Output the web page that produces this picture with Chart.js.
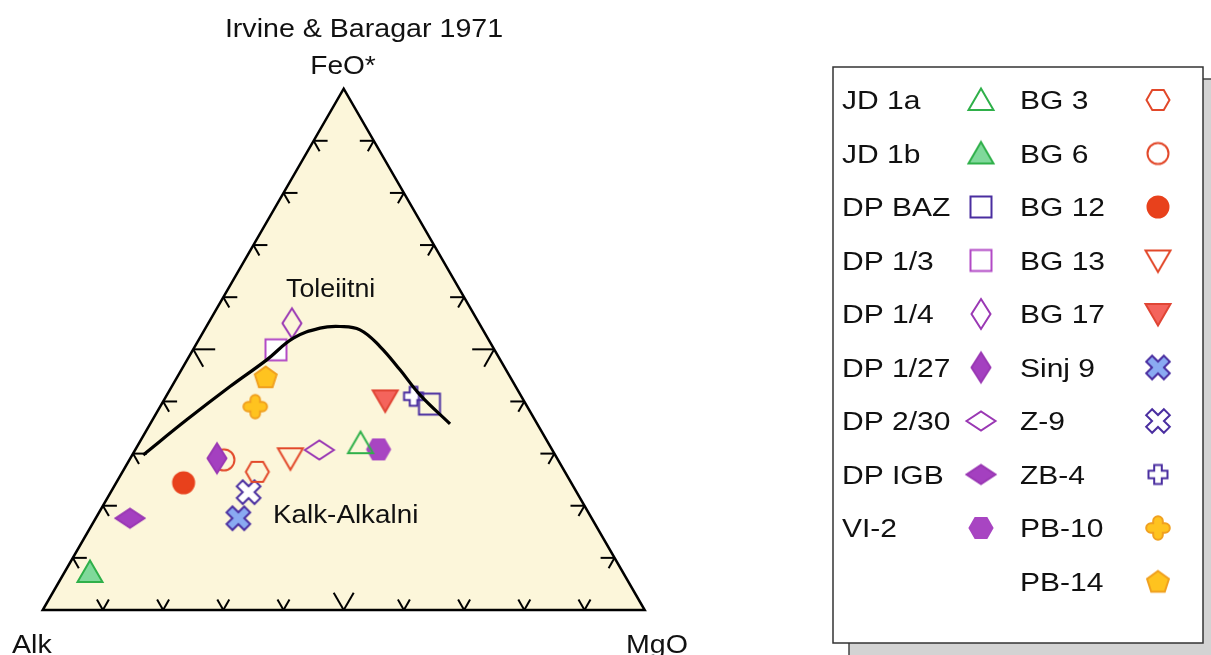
<!DOCTYPE html>
<html>
<head>
<meta charset="utf-8">
<script src="https://cdn.jsdelivr.net/npm/chart.js@4.4.1/dist/chart.umd.min.js"></script>
<style>
  html, body { margin: 0; padding: 0; background: #ffffff; }
  #wrap { width: 1211px; height: 655px; }
</style>
</head>
<body>
<div id="wrap"><canvas id="chart" width="1211" height="655"></canvas></div>
<script>
// Sample compositions (wt% normalised): FeO*, MgO, Alk (Na2O + K2O)
const sampleNames = ["JD 1a", "JD 1b", "DP BAZ", "DP 1/3", "DP 1/4", "DP 1/27", "DP 2/30", "DP IGB", "VI-2",
                     "BG 3", "BG 6", "BG 12", "BG 13", "BG 17", "Sinj 9", "Z-9", "ZB-4", "PB-10", "PB-14"];
const feoValues = [32.0, 7.3, 39.5, 49.9, 55.0, 29.1, 30.7, 17.6, 30.8,
                   26.5, 28.8, 24.4, 29.1, 40.2, 17.6, 22.6, 41.0, 39.0, 44.7];
const mgoValues = [36.8, 4.2, 44.5, 13.8, 13.9, 14.4, 30.6, 5.7, 40.4,
                   22.4, 15.7, 11.2, 26.6, 36.8, 23.7, 22.9, 41.1, 15.8, 14.7];
const alkValues = [31.2, 88.5, 16.0, 36.3, 31.1, 56.5, 38.7, 76.7, 28.8,
                   51.1, 55.5, 64.4, 44.3, 23.0, 58.7, 54.5, 17.9, 45.2, 40.6];

// Irvine & Baragar (1971) tholeiitic / calc-alkaline boundary
const boundaryFeO = [29.75, 36.47, 42.86, 47.98, 52.15, 54.07, 54.38, 53.74, 50.54, 46.07, 41.27, 35.7];
const boundaryMgO = [1.83, 5.68, 9.68, 13.22, 15.56, 19.03, 22.2, 25.84, 30.76, 36.32, 42.04, 49.81];

const tickPercents = [10, 20, 30, 40, 50, 60, 70, 80, 90];
const apexLabels = ["FeO*", "Alk", "MgO"];
const fieldLabels = ["Toleiitni", "Kalk-Alkalni"];
const chartTitle = "Irvine & Baragar 1971";

// marker styles per sample (shape, fill, stroke)
const GREEN = "#2fb04a", INDIGO = "#4a2ea0", MAGENTA = "#b24ac6", PURPLE = "#9a38b4",
      RED = "#e2482a", ORANGE = "#f0a020";
const markerStyles = [
  ["triangle", null, GREEN],
  ["triangle", "#80d99b", GREEN],
  ["square", null, INDIGO],
  ["square", "#ffffff", MAGENTA],
  ["diamondTall", null, PURPLE],
  ["diamondTall", "#a440c0", PURPLE],
  ["diamondWide", null, PURPLE],
  ["diamondWide", "#a440c0", PURPLE],
  ["hexagon", "#a845c2", "#a845c2"],
  ["hexagon", null, RED],
  ["circle", null, RED],
  ["circle", "#e8411c", "#e8411c"],
  ["triangleDown", null, RED],
  ["triangleDown", "#f4645c", "#e04535"],
  ["xcross", "#8aaaf2", INDIGO],
  ["xcross", "#ffffff", INDIGO],
  ["plus", "#ffffff", INDIGO],
  ["flower", "#ffc31f", ORANGE],
  ["pentagon", "#ffc31f", ORANGE]
];

const FONT = '"Liberation Sans", Arial, sans-serif';
const SQ3 = Math.sqrt(3) / 2;

function toXY(feo, mgo, alk) {
  const t = feo + mgo + alk;
  const f = feo / t * 100, m = mgo / t * 100;
  return { x: m + f / 2, y: f * SQ3 };
}

function makeMarker(shape, fill, stroke) {
  const c = document.createElement("canvas");
  const S = 36;
  c.width = S; c.height = S;
  const g = c.getContext("2d");
  g.translate(S / 2, S / 2);
  g.lineWidth = 2;
  g.lineJoin = "miter";
  g.beginPath();
  if (shape === "triangle") {
    g.moveTo(0, -11.5); g.lineTo(12.5, 10); g.lineTo(-12.5, 10); g.closePath();
  } else if (shape === "triangleDown") {
    g.moveTo(0, 11.5); g.lineTo(12.5, -10); g.lineTo(-12.5, -10); g.closePath();
  } else if (shape === "square") {
    g.rect(-10.5, -10.5, 21, 21);
  } else if (shape === "diamondTall") {
    g.moveTo(0, -15); g.lineTo(9.5, 0); g.lineTo(0, 15); g.lineTo(-9.5, 0); g.closePath();
  } else if (shape === "diamondWide") {
    g.moveTo(-14.5, 0); g.lineTo(0, -9.5); g.lineTo(14.5, 0); g.lineTo(0, 9.5); g.closePath();
  } else if (shape === "circle") {
    g.arc(0, 0, 10.5, 0, Math.PI * 2);
  } else if (shape === "hexagon") {
    for (let i = 0; i < 6; i++) {
      const a = i * Math.PI / 3;
      g.lineTo(11.5 * Math.cos(a), 11.5 * Math.sin(a));
    }
    g.closePath();
  } else if (shape === "pentagon") {
    for (let i = 0; i < 5; i++) {
      const a = -Math.PI / 2 + i * 2 * Math.PI / 5;
      g.lineTo(11.5 * Math.cos(a), 11.5 * Math.sin(a) + 1);
    }
    g.closePath();
  } else if (shape === "plus" || shape === "xcross") {
    const a = shape === "plus" ? 3.8 : 4.2, L = shape === "plus" ? 9.5 : 12.5;
    if (shape === "xcross") g.rotate(Math.PI / 4);
    const pts = [[-a, -L], [a, -L], [a, -a], [L, -a], [L, a], [a, a], [a, L], [-a, L], [-a, a], [-L, a], [-L, -a], [-a, -a]];
    pts.forEach((p, i) => i ? g.lineTo(p[0], p[1]) : g.moveTo(p[0], p[1]));
    g.closePath();
  } else if (shape === "flower") {
    const a = 4.8, L = 7;
    g.moveTo(-a, -a);
    g.lineTo(-a, -L); g.arc(0, -L, a, Math.PI, 2 * Math.PI);
    g.lineTo(a, -a); g.lineTo(L, -a); g.arc(L, 0, a, -Math.PI / 2, Math.PI / 2);
    g.lineTo(a, a); g.lineTo(a, L); g.arc(0, L, a, 0, Math.PI);
    g.lineTo(-a, a); g.lineTo(-L, a); g.arc(-L, 0, a, Math.PI / 2, 3 * Math.PI / 2);
    g.closePath();
  }
  if (fill) { g.fillStyle = fill; g.fill(); }
  g.strokeStyle = stroke;
  g.stroke();
  return c;
}

const markers = markerStyles.map(s => makeMarker(s[0], s[1], s[2]));

const sampleSets = sampleNames.map((name, i) => ({
  label: name,
  data: [toXY(feoValues[i], mgoValues[i], alkValues[i])],
  pointStyle: markers[i],
  pointRadius: 11,
  showLine: false
}));

const boundarySet = {
  label: "boundary",
  data: boundaryFeO.map((f, i) => toXY(f, boundaryMgO[i], 100 - f - boundaryMgO[i])),
  showLine: true,
  borderColor: "#000000",
  borderWidth: 3.2,
  pointRadius: 0,
  tension: 0.4,
  fill: false
};

function stretchedText(ctx, text, x, y, size, sx, align) {
  ctx.save();
  ctx.font = size + "px " + FONT;
  ctx.fillStyle = "#111111";
  ctx.textBaseline = "alphabetic";
  const w = ctx.measureText(text).width * sx;
  let left = x;
  if (align === "center") left = x - w / 2;
  ctx.translate(left, y);
  ctx.scale(sx, 1);
  ctx.textAlign = "left";
  ctx.fillText(text, 0, 0);
  ctx.restore();
}

const ternaryFrame = {
  id: "ternaryFrame",
  beforeDatasetsDraw(chart) {
    const { ctx, scales: { x, y } } = chart;
    const P = (xx, yy) => [x.getPixelForValue(xx), y.getPixelForValue(yy)];
    const A = P(0, 0), M = P(100, 0), F = P(50, 100 * SQ3);
    ctx.save();
    ctx.beginPath();
    ctx.moveTo(A[0], A[1]); ctx.lineTo(M[0], M[1]); ctx.lineTo(F[0], F[1]); ctx.closePath();
    ctx.fillStyle = "#fcf6da";
    ctx.fill();
    ctx.lineWidth = 2.5;
    ctx.strokeStyle = "#000000";
    ctx.lineJoin = "miter";
    ctx.stroke();

    // ticks pointing along the grid directions
    ctx.lineWidth = 2;
    ctx.lineCap = "butt";
    const seg = (p, dx, dy, len) => {
      ctx.beginPath();
      ctx.moveTo(p[0], p[1]);
      ctx.lineTo(p[0] + dx * len, p[1] + dy * len);
      ctx.stroke();
    };
    tickPercents.forEach(t => {
      const len = t === 50 ? 20 : 12;
      const b = P(t, 0);
      seg(b, -0.5, -SQ3, len); seg(b, 0.5, -SQ3, len);
      const l = P(t / 2, t * SQ3);
      seg(l, 1, 0, len + 2); seg(l, 0.5, SQ3, len);
      const r = P(100 - t / 2, t * SQ3);
      seg(r, -1, 0, len + 2); seg(r, -0.5, SQ3, len);
    });
    ctx.restore();
  },
  afterDraw(chart) {
    const { ctx } = chart;
    // labels
    stretchedText(ctx, chartTitle, 364, 37, 26, 1.1, "center");
    stretchedText(ctx, apexLabels[0], 343, 74, 26, 1.08, "center");
    stretchedText(ctx, apexLabels[1], 12, 653, 26, 1.1, "left");
    stretchedText(ctx, apexLabels[2], 626, 653, 26, 1.1, "left");
    stretchedText(ctx, fieldLabels[0], 286, 297, 26, 1.03, "left");
    stretchedText(ctx, fieldLabels[1], 273, 523, 26, 1.07, "left");

    // legend box with drop shadow
    ctx.save();
    ctx.fillStyle = "#d3d3d3";
    ctx.strokeStyle = "#444444";
    ctx.lineWidth = 1.5;
    ctx.fillRect(849, 79, 380, 600);
    ctx.strokeRect(849, 79, 380, 600);
    ctx.fillStyle = "#ffffff";
    ctx.fillRect(833, 67, 370, 576);
    ctx.strokeStyle = "#333333";
    ctx.strokeRect(833, 67, 370, 576);
    ctx.restore();

    const nCol1 = 9;
    sampleNames.forEach((name, i) => {
      const col = i < nCol1 ? 0 : 1;
      const row = col === 0 ? i : i - nCol1;
      const cy = 100 + row * 53.5;
      const tx = col === 0 ? 842 : 1020;
      const mx = col === 0 ? 981 : 1158;
      stretchedText(ctx, name, tx, cy + 9, 25, 1.2, "left");
      const m = markers[i];
      ctx.drawImage(m, mx - m.width / 2, cy - m.height / 2);
    });
  }
};

const ctx = document.getElementById("chart").getContext("2d");
const afmChart = new Chart(ctx, {
  type: "scatter",
  data: { datasets: [boundarySet].concat(sampleSets) },
  options: {
    responsive: false,
    animation: false,
    events: [],
    layout: { padding: 0, autoPadding: false },
    plugins: { legend: { display: false }, tooltip: { enabled: false } },
    scales: {
      x: { type: "linear", display: false, min: -7.093, max: 194.07 },
      y: { type: "linear", display: false, min: -7.475, max: 101.33 }
    }
  },
  plugins: [ternaryFrame]
});
</script>
</body>
</html>
